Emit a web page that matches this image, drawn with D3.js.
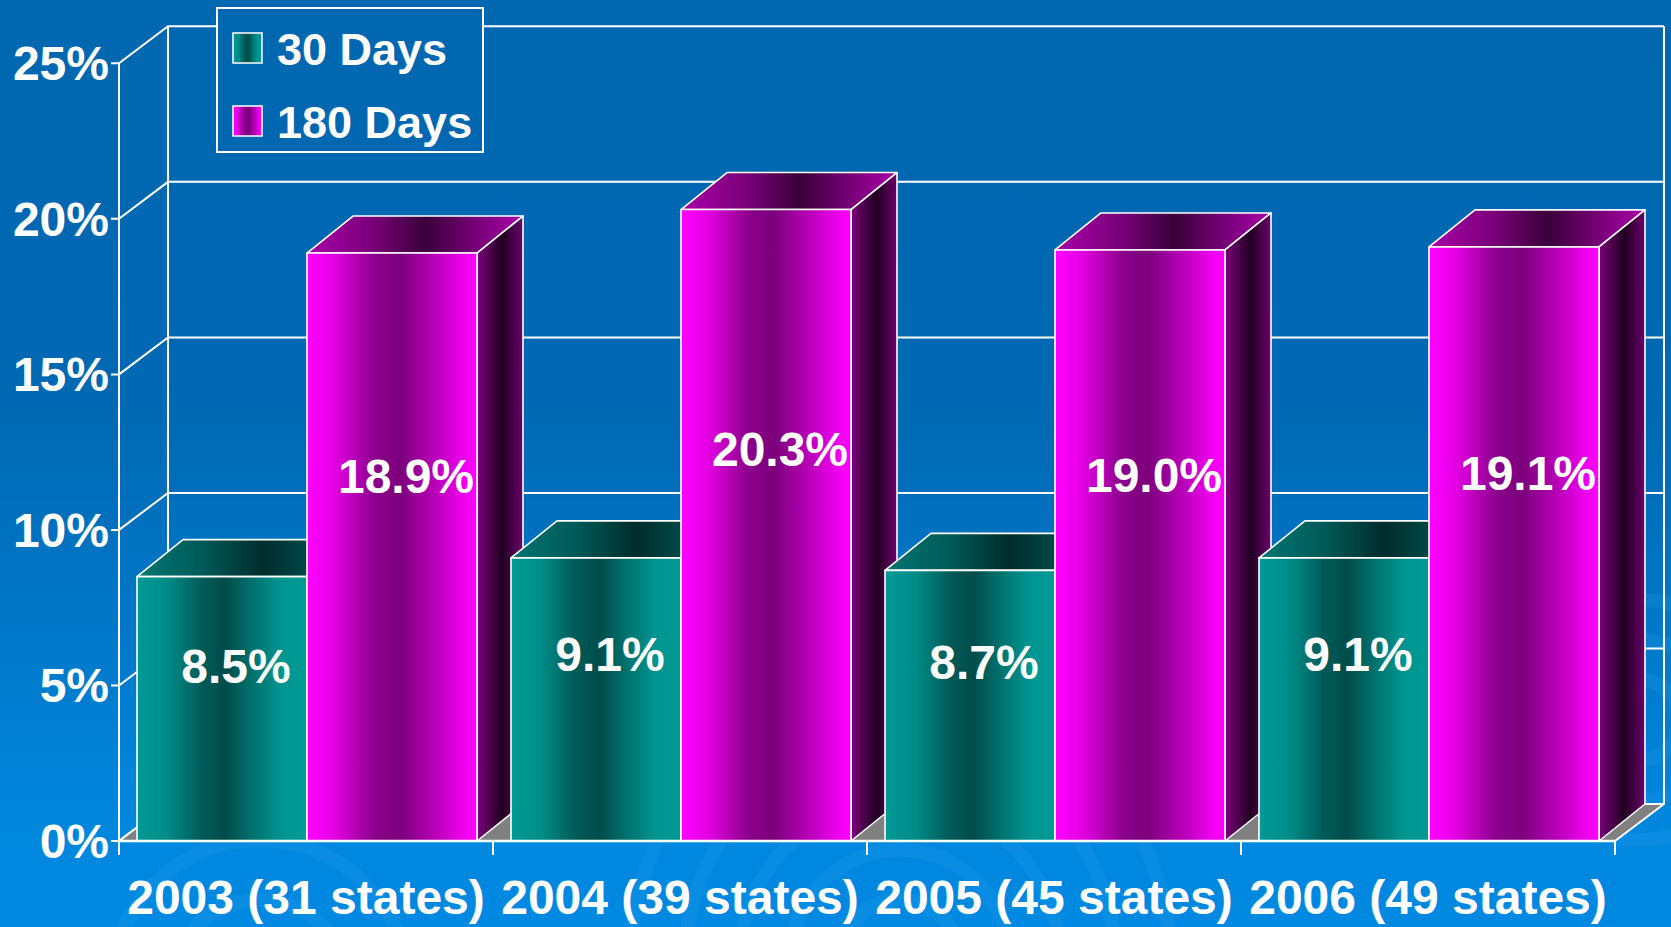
<!DOCTYPE html>
<html>
<head>
<meta charset="utf-8">
<script src="https://cdn.jsdelivr.net/npm/d3@7"></script>
<style>
  html, body { margin: 0; padding: 0; background: #0067b0; overflow: hidden; }
  svg { display: block; font-family: "Liberation Sans", Arial, sans-serif; font-weight: bold; }
</style>
</head>
<body>
<div id="chart"></div>
<script>
var categories = ['2003 (31 states)', '2004 (39 states)', '2005 (45 states)', '2006 (49 states)']
var series = ['30 Days', '180 Days']
var days30 = [8.5, 9.1, 8.7, 9.1]
var days180 = [18.9, 20.3, 19.0, 19.1]
var yTicks = [0, 5, 10, 15, 20, 25]

var width = 1671
var height = 927

// 3d offsets: back wall and bar depth
var wallDx = 49, wallDy = -37
var barDx = 46, barDy = -37

// labels sit part way up each bar
var labelLevel = {'30 Days': 0.66, '180 Days': 0.62}

var svg = d3.select('#chart').append('svg')
  .attr('width', width)
  .attr('height', height)

var defs = svg.append('defs')

function gradient(id, stops, vertical){
  var g = defs.append('linearGradient')
    .attr('id', id)
    .attr('x1', 0).attr('y1', 0)
    .attr('x2', vertical ? 0 : 1).attr('y2', vertical ? 1 : 0)
  g.selectAll('stop').data(stops).join('stop')
    .attr('offset', d => d[0])
    .attr('stop-color', d => d[1])
}

gradient('bg', [[0, '#0067b0'], [0.45, '#0069b3'], [0.9, '#0087de'], [1, '#0089e2']], true)

gradient('tealFront', [[0, '#009a96'], [0.18, '#008c88'], [0.38, '#005b58'], [0.52, '#004c4a'],
  [0.68, '#00726e'], [0.85, '#009590'], [1, '#009a95']])
gradient('tealTop', [[0, '#007672'], [0.3, '#005a58'], [0.58, '#002c2c'], [0.8, '#004a48'], [1, '#005a58']])
gradient('tealSide', [[0, '#005a58'], [0.55, '#002222'], [1, '#004a48']])

gradient('magFront', [[0, '#ff00ff'], [0.15, '#e600e6'], [0.4, '#8a008a'], [0.55, '#7c007c'],
  [0.78, '#c000c0'], [0.92, '#ee00ee'], [1, '#ff00ff']])
gradient('magTop', [[0, '#a800a8'], [0.3, '#7a007a'], [0.55, '#3a003a'], [0.75, '#6e006e'], [1, '#aa00aa']])
gradient('magSide', [[0, '#7a007a'], [0.55, '#200020'], [1, '#6c006c']])

var fills = {
  '30 Days': {front: 'url(#tealFront)', top: 'url(#tealTop)', side: 'url(#tealSide)'},
  '180 Days': {front: 'url(#magFront)', top: 'url(#magTop)', side: 'url(#magSide)'}
}

// background
svg.append('rect')
  .attr('width', width).attr('height', height)
  .attr('fill', 'url(#bg)')

// faint swirls near the bottom
var swirls = svg.append('g').attr('fill', 'none').attr('stroke', '#3aa8f4').attr('stroke-opacity', 0.16)
;[[900, 960, [60, 110, 160, 215, 270]], [1640, 720, [40, 80, 120]], [260, 990, [90, 150]]].forEach(s => {
  swirls.selectAll(null).data(s[2]).join('circle')
    .attr('cx', s[0]).attr('cy', s[1]).attr('r', d => d)
    .attr('stroke-width', 14)
})

var x0 = d3.scaleBand().domain(categories).range([119, 1615])
var x1 = d3.scaleBand().domain(series).range([18, 358])
var y = d3.scaleLinear().domain([0, 25]).range([841, 63.3])

var xLeft = x0.range()[0], xRight = x0.range()[1]
var yTop = y(d3.max(yTicks)), yBase = y(0)

// walls and grid
var grid = svg.append('g')
  .attr('stroke', '#fff')
  .attr('stroke-width', 2)
  .attr('fill', 'none')

grid.selectAll('.side').data(yTicks).join('path')
  .attr('d', d => 'M' + [xLeft - 8, y(d)] + 'L' + [xLeft, y(d)] + 'L' + [xLeft + wallDx, y(d) + wallDy]
    + 'L' + [xRight + wallDx, y(d) + wallDy])

grid.append('path')
  .attr('d', 'M' + [xLeft, yTop] + 'V' + (yBase + 14))
grid.append('path')
  .attr('d', 'M' + [xLeft + wallDx, yTop + wallDy] + 'V' + (yBase + wallDy))
grid.append('path')
  .attr('d', 'M' + [xRight + wallDx, yTop + wallDy] + 'V' + (yBase + wallDy))

// floor
svg.append('path')
  .attr('d', 'M' + [xLeft, yBase] + 'L' + [xRight, yBase] + 'L' + [xRight + wallDx, yBase + wallDy]
    + 'L' + [xLeft + wallDx, yBase + wallDy] + 'Z')
  .attr('fill', '#808080')
  .attr('stroke', '#fff')
  .attr('stroke-width', 2)
  .attr('stroke-linejoin', 'round')

// category ticks
var tickXs = d3.range(categories.length + 1).map(i => xLeft + i * x0.step())
svg.append('g').selectAll('line').data(tickXs).join('line')
  .attr('x1', d => d).attr('x2', d => d)
  .attr('y1', yBase).attr('y2', yBase + 14)
  .attr('stroke', '#fff').attr('stroke-width', 2)

// bars
var bars = []
categories.forEach((c, i) => {
  bars.push({cat: c, s: '30 Days', v: days30[i]})
  bars.push({cat: c, s: '180 Days', v: days180[i]})
})
bars.forEach(d => {
  d.xa = x0(d.cat) + x1(d.s)
  d.xb = d.xa + x1.bandwidth()
  d.yt = y(d.v)
})

var barG = svg.append('g').selectAll('g').data(bars).join('g')
  .attr('stroke', '#fff')
  .attr('stroke-width', 1.6)
  .attr('stroke-linejoin', 'round')

barG.append('path')
  .attr('d', d => 'M' + [d.xa, d.yt] + 'L' + [d.xa + barDx, d.yt + barDy] + 'L' + [d.xb + barDx, d.yt + barDy]
    + 'L' + [d.xb, d.yt] + 'Z')
  .attr('fill', d => fills[d.s].top)

barG.append('path')
  .attr('d', d => 'M' + [d.xb, d.yt] + 'L' + [d.xb + barDx, d.yt + barDy] + 'L' + [d.xb + barDx, yBase + barDy]
    + 'L' + [d.xb, yBase] + 'Z')
  .attr('fill', d => fills[d.s].side)

barG.append('rect')
  .attr('x', d => d.xa)
  .attr('y', d => d.yt)
  .attr('width', x1.bandwidth())
  .attr('height', d => yBase - d.yt)
  .attr('fill', d => fills[d.s].front)

// value labels
svg.append('g').selectAll('text').data(bars).join('text')
  .attr('x', d => (d.xa + d.xb) / 2 + 14)
  .attr('y', d => y(d.v * labelLevel[d.s]) + 17)
  .attr('text-anchor', 'middle')
  .attr('fill', '#fff')
  .attr('font-size', 48)
  .text(d => d3.format('.1f')(d.v) + '%')

// front baseline over the bars
svg.append('path')
  .attr('d', 'M' + [xLeft, yBase] + 'H' + xRight)
  .attr('stroke', '#fff').attr('stroke-width', 2.5)

// y tick labels
svg.append('g').selectAll('text').data(yTicks).join('text')
  .attr('x', xLeft - 10)
  .attr('y', d => y(d) + 17)
  .attr('text-anchor', 'end')
  .attr('fill', '#fff')
  .attr('font-size', 48)
  .text(d => d + '%')

// category labels
svg.append('g').selectAll('text').data(categories).join('text')
  .attr('x', d => x0(d) + x0.bandwidth() / 2)
  .attr('y', 914)
  .attr('text-anchor', 'middle')
  .attr('fill', '#fff')
  .attr('font-size', 48)
  .text(d => d)

// legend
var legend = svg.append('g')
legend.append('rect')
  .attr('x', 217).attr('y', 8)
  .attr('width', 266).attr('height', 144)
  .attr('fill', '#0067b0')
  .attr('stroke', '#fff').attr('stroke-width', 2)

var item = legend.selectAll('g').data(series).join('g')
  .attr('transform', (d, i) => 'translate(233,' + (33 + i * 73) + ')')

item.append('rect')
  .attr('width', 29).attr('height', 30)
  .attr('fill', d => fills[d].front)
  .attr('stroke', '#fff').attr('stroke-width', 1.5)

item.append('text')
  .attr('x', 44).attr('y', 32)
  .attr('fill', '#fff')
  .attr('font-size', 45)
  .text(d => d)
</script>
</body>
</html>
